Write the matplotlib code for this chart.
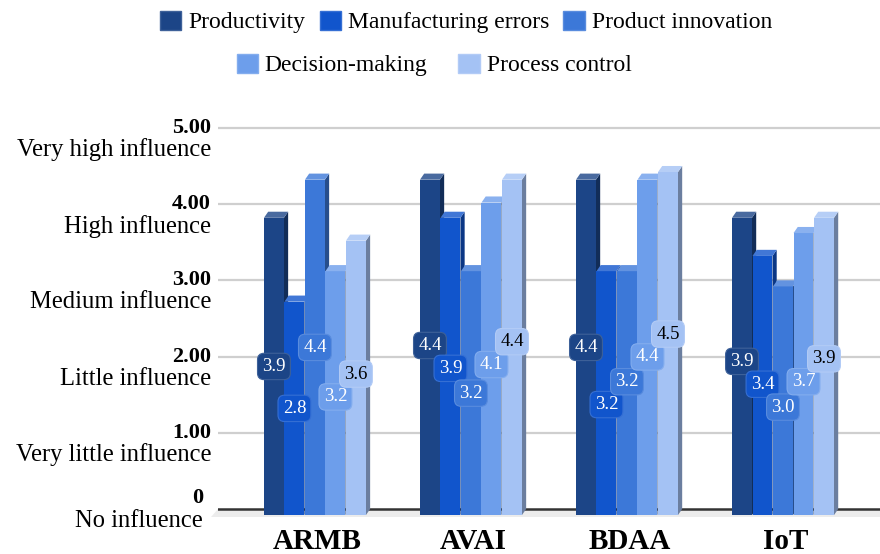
import numpy as np
import matplotlib.pyplot as plt
from matplotlib.patches import Polygon, Patch
from matplotlib import colors as mcolors

plt.rcParams['font.family'] = ['Liberation Serif', 'DejaVu Serif']

categories = ['ARMB', 'AVAI', 'BDAA', 'IoT']
series_names = ['Productivity', 'Manufacturing errors', 'Product innovation',
                'Decision-making', 'Process control']
productivity = [3.9, 4.4, 4.4, 3.9]
manufacturing_errors = [2.8, 3.9, 3.2, 3.4]
product_innovation = [4.4, 3.2, 3.2, 3.0]
decision_making = [3.2, 4.1, 4.4, 3.7]
process_control = [3.6, 4.4, 4.5, 3.9]
ytick_values = [0, 1, 2, 3, 4, 5]
ytick_numbers = ['0', '1.00', '2.00', '3.00', '4.00', '5.00']
ytick_names = ['No influence', 'Very little influence', 'Little influence',
               'Medium influence', 'High influence', 'Very high influence']

all_series = [productivity, manufacturing_errors, product_innovation,
              decision_making, process_control]
bar_colors = ['#1c4587', '#1155cc', '#3c78d8', '#6d9eeb', '#a4c2f4']
label_text_colors = ['white', 'white', 'white', 'white', 'black']


def shade(c, f):
    r = np.array(mcolors.to_rgb(c))
    return tuple(r * f)


def tint(c, f):
    r = np.array(mcolors.to_rgb(c))
    return tuple(r + (1 - r) * f)


def spread(ys, gap):
    # push neighbouring labels apart so they don't overlap
    ys = list(ys)
    for _ in range(200):
        for k in range(len(ys) - 1):
            d = ys[k + 1] - ys[k]
            if abs(d) < gap:
                push = (gap - abs(d)) / 2
                s = 1 if d >= 0 else -1
                ys[k] -= s * push
                ys[k + 1] += s * push
    return ys


fig = plt.figure(figsize=(8.8, 5.54), dpi=100)
ax = fig.add_axes([218 / 880, (554 - 525) / 554, (880 - 218) / 880, 420 / 554])
ax.set_xlim(-0.623, 3.62)
ax.set_ylim(-0.21, 5.3)
ax.axis('off')

step = 0.1314
w = 0.128
dx = 0.027
dy = 0.08

# back wall grid + floor
for v in ytick_values[1:]:
    ax.axhline(v, color='#cfcfcf', lw=1.6, zorder=0)
ax.add_patch(Polygon([(-0.623, 0), (3.62, 0), (3.62, -0.1), (-0.67, -0.1)],
                     closed=True, fc='#ececec', ec='none', zorder=0.5, clip_on=False))
ax.axhline(0, color='#333333', lw=1.8, zorder=1)

for i, cat in enumerate(categories):
    ideal = []
    xs = []
    for j, vals in enumerate(all_series):
        v = vals[i]
        c = bar_colors[j]
        x0 = i - 2.5 * step + j * step
        z = 2 + j * 0.1
        front = Polygon([(x0, -dy), (x0 + w, -dy), (x0 + w, v - dy), (x0, v - dy)],
                        closed=True, fc=c, ec='none', zorder=z)
        side = Polygon([(x0 + w, -dy), (x0 + w + dx, 0), (x0 + w + dx, v), (x0 + w, v - dy)],
                       closed=True, fc=shade(c, 0.65), ec='none', zorder=z - 0.05)
        top = Polygon([(x0, v - dy), (x0 + w, v - dy), (x0 + w + dx, v), (x0 + dx, v)],
                      closed=True, fc=tint(c, 0.2), ec='none', zorder=z)
        ax.add_patch(side)
        ax.add_patch(front)
        ax.add_patch(top)
        ideal.append(v / 2 - dy)
        xs.append(x0 + w / 2)
    ys = spread(ideal, 0.3)
    for j, vals in enumerate(all_series):
        ax.text(xs[j], ys[j], f'{vals[i]:.1f}', ha='center', va='center',
                fontsize=13.5, color=label_text_colors[j], zorder=10,
                bbox=dict(boxstyle='round,pad=0.25,rounding_size=0.35',
                          fc=bar_colors[j], ec=tint(bar_colors[j], 0.15), lw=0.8))
    ax.text(i + dx / 2, -0.42, cat, ha='center', va='center', fontsize=21,
            fontweight='bold', clip_on=False)

# y axis labels (value + description)
ytr = ax.get_yaxis_transform()
for v, num, name in zip(ytick_values, ytick_numbers, ytick_names):
    if v == 0:
        ax.text(-15 / 662, v + 0.15, num, transform=ytr, ha='right', va='center',
                fontsize=16, fontweight='bold')
        ax.text(-15 / 662, v - 0.16, name, transform=ytr, ha='right', va='center',
                fontsize=17.7)
    else:
        ax.text(-7 / 662, v, num, transform=ytr, ha='right', va='center',
                fontsize=16, fontweight='bold')
        ax.text(-7 / 662, v - 0.29, name, transform=ytr, ha='right', va='center',
                fontsize=17.7)

handles = [Patch(fc=c, ec=tint(c, 0.15)) for c in bar_colors]
fig.legend(handles[:3], series_names[:3], loc='center',
           bbox_to_anchor=(466 / 880, 1 - 22 / 554), ncol=3, frameon=False,
           fontsize=17, handlelength=0.9, handleheight=0.9, handletextpad=0.3,
           columnspacing=0.6, borderpad=0, borderaxespad=0)
fig.legend(handles[3:], series_names[3:], loc='center',
           bbox_to_anchor=(434 / 880, 1 - 65 / 554), ncol=2, frameon=False,
           fontsize=17, handlelength=0.9, handleheight=0.9, handletextpad=0.3,
           columnspacing=1.3, borderpad=0, borderaxespad=0)

fig.savefig('out.png', dpi=100)
